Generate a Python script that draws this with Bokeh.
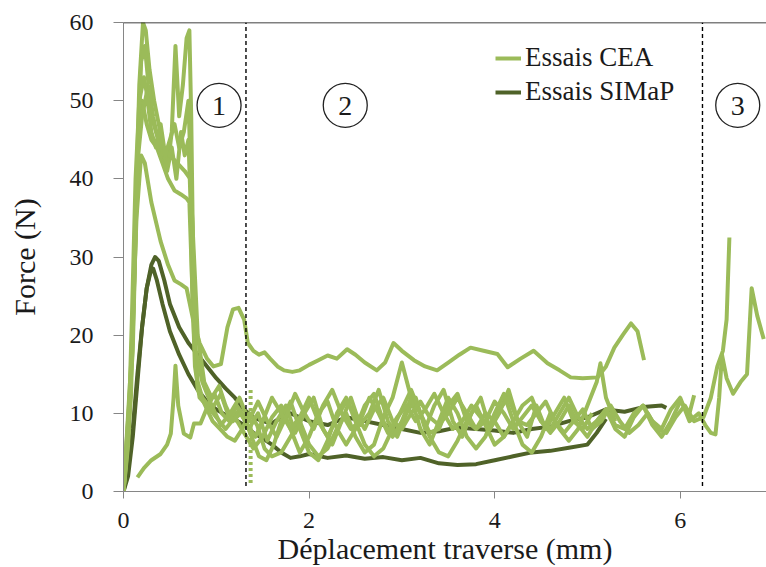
from bokeh.plotting import figure
from bokeh.models import Range1d, Span, Legend, LegendItem, FixedTicker
from bokeh.embed import file_html
from bokeh.resources import INLINE
from bokeh.core.properties import value

# ---------------- data ----------------
cea1 = [(0,0),(0.06,8),(0.12,30),(0.17,52),(0.21,60),(0.24,59),(0.28,54),(0.33,50),(0.38,47),(0.43,44),(0.48,42),(0.52,46),(0.56,57),(0.6,48),(0.64,52),(0.68,58),(0.71,59),(0.73,48),(0.75,30),(0.77,18),(0.8,14),
        (0.85,12),(0.95,10.5),(1.05,12.5),(1.15,9),(1.25,10.5),(1.35,8),(1.45,10),(1.55,6.5),(1.65,9),(1.75,11),(1.85,7.5),(1.95,10),(2.05,12),(2.15,8),(2.25,6),(2.35,9),(2.45,12),(2.55,8.5),(2.65,10),(2.75,13),(2.85,9),(2.95,7),(3.05,10),(3.15,12),(3.25,8),(3.35,11),(3.45,13),(3.55,9),(3.65,7),(3.75,10),(3.85,12),(3.95,8),(4.05,10),(4.15,13),(4.25,9),(4.35,7),(4.45,11),(4.55,8),(4.65,10),(4.75,12),(4.85,9),(4.95,8),(5.05,10)]

cea2 = [(0,0),(0.08,12),(0.14,38),(0.19,55),(0.23,57),(0.27,52),(0.32,48),(0.37,45),(0.42,43),(0.47,41),(0.52,44),(0.57,40),(0.62,46),(0.66,43),(0.7,45),(0.72,38),(0.74,26),(0.77,16),
        (0.82,12),(0.9,11),(1.0,9.5),(1.1,8),(1.2,9.5),(1.3,7.5),(1.4,5.5),(1.5,7),(1.6,9.5),(1.7,11),(1.8,8),(1.9,5),(2.0,7),(2.1,10),(2.2,11.5),(2.3,8),(2.4,6),(2.5,8),(2.6,11),(2.7,12.5),(2.8,9),(2.9,7),(3.0,9),(3.1,12),(3.2,10),(3.3,7.5),(3.4,8),(3.5,11),(3.6,12.5),(3.7,9),(3.8,8),(3.9,10),(4.0,9),(4.1,7),(4.2,9),(4.3,11),(4.4,12),(4.5,9),(4.6,7.5),(4.7,9),(4.8,11),(4.9,8.5),(5.0,7),(5.1,9),(5.2,10.5),(5.3,8),(5.4,7),(5.5,9.5),(5.6,11),(5.7,8.5),(5.8,7),(5.9,9),(6.0,11.5),(6.1,10),(6.15,12.3)]

cea3 = [(0,0),(0.1,20),(0.16,45),(0.2,50),(0.25,47),(0.3,45),(0.36,44),(0.42,42),(0.48,40),(0.55,38.5),(0.62,38),(0.68,37.5),(0.71,37),(0.73,30),(0.76,20),(0.8,13),
        (0.88,11),(0.96,9),(1.04,8),(1.12,7),(1.2,6.5),(1.28,8),(1.36,10),(1.44,8.5),(1.52,5.5),(1.6,4.5),(1.7,5),(1.8,7),(1.9,9),(2.0,6),(2.1,4.5),(2.2,5.5),(2.3,8),(2.4,10),(2.5,7),(2.6,5),(2.7,6),(2.8,9.5),(2.9,12),(3.0,16.5),(3.1,12),(3.2,8),(3.3,6),(3.4,9),(3.5,12),(3.6,10),(3.7,7),(3.8,5.5),(3.9,7),(4.0,10),(4.1,12.5),(4.2,9),(4.3,6),(4.4,5),(4.5,7),(4.6,10),(4.7,8),(4.8,6.5),(4.9,8),(5.0,11),(5.1,14),(5.14,16.4),(5.2,12),(5.3,9)]

cea4 = [(0,0),(0.08,15),(0.14,35),(0.19,43),(0.23,42),(0.3,37),(0.4,32),(0.48,29),(0.55,27),(0.62,26.5),(0.68,26),(0.75,22),(0.82,19),(0.9,17),(0.97,16),(1.05,16.3),(1.12,21),(1.18,23.3),(1.24,23.5),(1.3,22),(1.34,19),(1.4,18),(1.46,17.5),(1.52,17.8),(1.58,17),(1.66,16),(1.73,15.5),(1.82,15.3),(1.9,15.5),(2.0,16.2),(2.1,16.8),(2.2,17.4),(2.3,17),(2.41,18.2),(2.5,17.5),(2.6,16.5),(2.73,15.5),(2.82,16.5),(2.91,19),(3.0,18),(3.13,16.8),(3.25,16),(3.38,15.5),(3.5,16.5),(3.62,17.5),(3.74,18.4),(3.88,18),(4.03,17.6),(4.14,15.9),(4.28,17),(4.42,18),(4.57,16.4),(4.7,15.5),(4.82,14.6),(4.95,14.5),(5.11,14.6),(5.2,16),(5.29,18.4),(5.38,20),(5.47,21.5),(5.54,20.5),(5.61,16.8)]

cea5 = [(0.15,1.8),(0.22,3),(0.3,4),(0.4,4.8),(0.47,6),(0.51,7.4),(0.54,12),(0.56,16.1),(0.59,11),(0.65,7.4),(0.72,6.9),(0.76,8.7),(0.83,8.7),(0.9,10.7),(0.98,12.5),(1.06,10),(1.14,9),(1.22,11),(1.3,9.5),(1.38,7),(1.46,4.5),(1.54,4),(1.62,6),(1.7,9),(1.8,11.5),(1.9,8),(2.0,5),(2.1,4),(2.2,6.5),(2.3,10),(2.4,12),(2.5,9),(2.6,6),(2.7,4.5),(2.8,5.5),(2.9,8),(3.0,10.5),(3.1,13),(3.2,10),(3.3,7),(3.4,5),(3.5,4.5),(3.6,6.5),(3.7,9),(3.8,11),(3.9,8.5),(4.0,6),(4.1,7),(4.2,9)]

cea6 = [(0,0),(0.05,6),(0.09,22),(0.13,40),(0.17,50),(0.22,53),(0.28,49),(0.35,46),(0.42,44),(0.5,43),(0.58,42),(0.66,41),(0.72,40),(0.76,30),(0.8,20),(0.87,14),(0.95,12),(1.03,13.5),(1.1,11),(1.18,9),(1.26,10),(1.34,8.5),(1.42,7),(1.5,9),(1.6,12),(1.7,10),(1.8,8),(1.9,9.5),(2.0,12),(2.1,9),(2.2,7),(2.3,9.5),(2.4,11.5),(2.5,10),(2.6,8),(2.7,10.5),(2.8,12),(2.9,9),(3.0,8),(3.1,10),(3.2,11.5),(3.3,9.5),(3.4,8.5),(3.5,10),(3.6,12),(3.7,10),(3.8,8),(3.9,9),(4.0,11.5),(4.1,10),(4.2,8),(4.3,9.5),(4.4,11),(4.5,9),(4.6,8),(4.7,10),(4.8,12),(4.9,9.5),(5.0,8),(5.1,9),(5.2,10.5),(5.3,8.5),(5.4,8),(5.5,10),(5.6,11),(5.7,9),(5.8,8),(5.9,10.5),(6.0,12),(6.1,9),(6.2,10),(6.27,8.5),(6.33,7.5),(6.38,7.3),(6.42,12),(6.45,17.5),(6.5,14.5),(6.57,12.5),(6.65,14),(6.72,15),(6.77,26),(6.83,22.5),(6.9,19.5)]

cea7 = [(0,0),(0.1,18),(0.15,42),(0.2,48),(0.25,51),(0.3,46),(0.35,44),(0.4,47),(0.45,43),(0.5,45),(0.55,47),(0.6,44),(0.65,46),(0.7,50),(0.74,35),(0.78,18),
        (0.85,14),(0.95,11),(1.05,8.5),(1.15,10),(1.25,12),(1.35,9),(1.45,11.5),(1.55,9),(1.65,7),(1.75,9.5),(1.85,12.5),(1.95,10),(2.05,8),(2.15,11),(2.25,13),(2.35,10),(2.45,8),(2.55,9),(2.65,12),(2.75,10),(2.85,7.5),(2.95,9.5),(3.05,11),(3.15,9),(3.25,10.5),(3.35,12.5),(3.45,10),(3.55,8),(3.65,9),(3.75,11),(3.85,9.5),(3.95,8),(4.05,10.5),(4.15,12),(4.25,9),(4.35,8.5),(4.45,10),(4.55,11.5),(4.65,9),(4.75,7.5),(4.85,9),(4.95,10.5),(5.05,8),(5.15,9),(5.25,11),(5.35,9),(5.45,7.5),(5.55,8.5),(5.65,10),(5.75,8),(5.85,7.5),(5.95,9.5),(6.05,11),(6.15,9),(6.25,9.5),(6.33,12),(6.4,16),(6.46,18),(6.5,22),(6.53,32.5)]

cea_drop = [(1.37,13),(1.37,1)]

simap1 = [(0,0),(0.05,3),(0.1,8),(0.15,15),(0.2,21),(0.25,26),(0.3,29),(0.34,30),(0.38,29.5),(0.44,27),(0.5,24),(0.6,21),(0.7,19),(0.8,17.5),(0.9,16),(1.0,14.5),(1.1,13.2),(1.2,12),(1.3,10.5),(1.4,9.5),(1.5,9),(1.6,8.7),(1.7,9.5),(1.8,10),(1.9,9.5),(2.0,9),(2.2,8.5),(2.4,9.5),(2.6,9),(2.8,8.5),(3.0,8),(3.2,7.5),(3.4,7.7),(3.6,8.2),(3.8,8),(4.0,7.8),(4.2,7.5),(4.4,8),(4.6,8.3),(4.8,9),(5.0,9.5),(5.2,10.5),(5.4,10.2),(5.6,10.8),(5.8,11),(5.85,10.7)]

simap2 = [(0,0),(0.05,2),(0.1,7),(0.15,14),(0.2,21),(0.25,26),(0.29,28),(0.32,28.5),(0.36,27),(0.42,24),(0.5,20.5),(0.6,17.5),(0.7,15),(0.8,13),(0.9,11.5),(1.0,10.5),(1.1,9.8),(1.2,9.2),(1.3,8.5),(1.4,7.5),(1.5,6.8),(1.6,6),(1.7,5),(1.8,4.3),(1.9,4.5),(2.0,4.8),(2.2,4.3),(2.4,4.6),(2.6,4.2),(2.8,4.4),(3.0,4),(3.2,4.3),(3.4,3.6),(3.6,3.4),(3.8,3.5),(4.0,4),(4.2,4.5),(4.4,5),(4.6,5.2),(4.8,5.6),(5.0,6),(5.1,7.5),(5.2,9.3)]

cea_curves = [cea1, cea2, cea3, cea4, cea5, cea6, cea7]
simap_curves = [simap1, simap2]

zone_bounds = [1.32, 6.24]
zone_labels = ["1", "2", "3"]
zone_label_x = [1.03, 2.39, 6.62]
zone_label_y = [49.4, 49.4, 49.4]

x_ticks = [0, 2, 4, 6]
y_ticks = [0, 10, 20, 30, 40, 50, 60]

# ---------------- styling ----------------
LIGHT = "#9BBB59"
DARK = "#4F6228"
FONT = "Liberation Serif"
TXT = "#1a1a1a"
AX = "#868686"

p = figure(width=766, height=567, output_backend="svg", toolbar_location=None,
           x_range=Range1d(0, 6.93), y_range=Range1d(0, 60),
           min_border_left=123, min_border_right=0, min_border_top=22, min_border_bottom=76)
p.outline_line_color = None
p.xgrid.visible = False
p.ygrid.visible = False
p.background_fill_color = "white"

def xy(pts):
    return [a for a, b in pts], [b for a, b in pts]

simap_r = []
for c in simap_curves:
    xs, ys = xy(c)
    simap_r.append(p.line(xs, ys, line_color=DARK, line_width=4, line_join="round"))

cea_r = []
for c in cea_curves:
    xs, ys = xy(c)
    cea_r.append(p.line(xs, ys, line_color=LIGHT, line_width=4, line_join="round"))

dx, dy = xy(cea_drop)
p.line(dx, dy, line_color=LIGHT, line_width=4, line_dash="3 3")

# zone boundaries
p.segment(x0=zone_bounds, x1=zone_bounds, y0=[0.7] * len(zone_bounds), y1=[60] * len(zone_bounds),
          line_color="black", line_width=1.4, line_dash="4 3")

# top border
p.add_layout(Span(location=60, dimension="width", line_color="black", line_width=1.5))

# zone labels
p.scatter(zone_label_x, zone_label_y, marker="circle", size=44, fill_color=None,
          line_color="#222222", line_width=1.3)
p.text(zone_label_x, zone_label_y, text=zone_labels, text_font=value(FONT), text_font_size="28px",
       text_align="center", text_baseline="middle", text_color=TXT, y_offset=1)

# axes
for ax in (p.xaxis[0], p.yaxis[0]):
    ax.axis_line_color = AX
    ax.major_tick_line_color = AX
    ax.minor_tick_line_color = None
    ax.major_tick_in = 0
    ax.major_label_text_font = FONT
    ax.major_label_text_font_size = "24px"
    ax.major_label_text_color = TXT
    ax.axis_label_text_font = FONT
    ax.axis_label_text_font_style = "normal"
    ax.axis_label_text_color = TXT

p.xaxis.ticker = FixedTicker(ticks=x_ticks)
p.yaxis.ticker = FixedTicker(ticks=y_ticks)
p.xaxis.major_tick_out = 7
p.yaxis.major_tick_out = 10
p.xaxis.major_label_standoff = 14
p.yaxis.major_label_standoff = 20
p.xaxis.axis_label = "Déplacement traverse (mm)"
p.yaxis.axis_label = "Force (N)"
p.xaxis.axis_label_text_font_size = "30px"
p.yaxis.axis_label_text_font_size = "30px"
p.xaxis.axis_label_standoff = 1
p.yaxis.axis_label_standoff = 26

legend = Legend(items=[LegendItem(label="Essais CEA", renderers=[cea_r[0]]),
                       LegendItem(label="Essais SIMaP", renderers=[simap_r[0]])],
                location=(372, 384), background_fill_alpha=0, border_line_color=None,
                label_text_font=FONT, label_text_font_size="27px", label_text_color=TXT,
                glyph_width=26, glyph_height=30, label_height=30, spacing=3, padding=0,
                label_standoff=4, margin=0)
p.add_layout(legend)

open("out.html", "w").write(file_html(p, INLINE))
